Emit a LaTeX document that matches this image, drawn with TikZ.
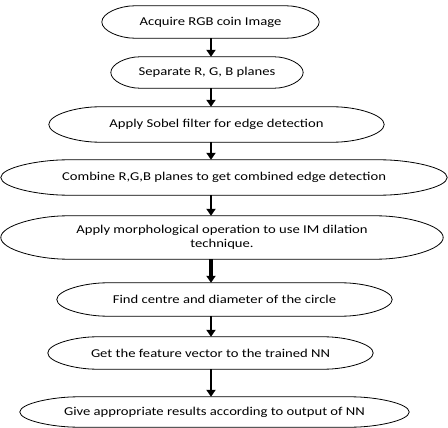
\documentclass[tikz,border=0pt]{standalone}
\usepackage{fontspec}
\setmainfont{Carlito}[FakeStretch=1.22]
\usetikzlibrary{calc,arrows.meta}

\tikzset{
  stage/.style={inner sep=0pt, align=center, font=\fontsize{12}{14}\selectfont},
  outline/.style={draw=black, line width=0.8pt},
  flow/.style={draw=black, line width=2.6pt, -{Triangle[length=7pt,width=9pt]}},
}

% oval with straight top and bottom, drawn round a named node
\newcommand{\stageoutline}[1]{%
  \draw [outline] (#1.west)
    .. controls ($(#1.west)!0.55!(#1.north west)$) and ($(#1.north west)!0.0825!(#1.north east)$) .. ($(#1.north west)!0.15!(#1.north east)$)
    -- ($(#1.north east)!0.15!(#1.north west)$)
    .. controls ($(#1.north east)!0.0825!(#1.north west)$) and ($(#1.east)!0.55!(#1.north east)$) .. (#1.east)
    .. controls ($(#1.east)!0.55!(#1.south east)$) and ($(#1.south east)!0.0825!(#1.south west)$) .. ($(#1.south east)!0.15!(#1.south west)$)
    -- ($(#1.south west)!0.15!(#1.south east)$)
    .. controls ($(#1.south west)!0.0825!(#1.south east)$) and ($(#1.west)!0.55!(#1.south west)$) .. (#1.west) -- cycle;}

\begin{document}
\begin{tikzpicture}[x=1pt, y=-1pt]
\useasboundingbox (0, 0) rectangle (448, 428);

\node [stage, minimum width=217pt, minimum height=32pt] (acquire)  at (210.5, 22)   {Acquire RGB coin Image};
\node [stage, minimum width=192pt, minimum height=31pt] (separate) at (207, 72.5)   {Separate R, G, B planes};
\node [stage, minimum width=335pt, minimum height=35pt] (sobel)    at (216.5, 124.5) {Apply Sobel filter for edge detection};
\node [stage, minimum width=446pt, minimum height=35pt] (combine)  at (224, 177.5)  {Combine R,G,B planes to get combined edge detection};
\node [stage, minimum width=442pt, minimum height=43pt] (dilate)   at (222, 237.5)  {Apply morphological operation to use IM dilation\\ technique.};
\node [stage, minimum width=335pt, minimum height=33pt] (circle)   at (224.5, 299.5) {Find centre and diameter of the circle};
\node [stage, minimum width=325pt, minimum height=32pt] (feature)  at (210.5, 353)  {Get the feature vector to the trained NN};
\node [stage, minimum width=389pt, minimum height=30pt] (result)   at (214.5, 412)  {Give appropriate results according to output of NN};

\foreach \n in {acquire, separate, sobel, combine, dilate, circle, feature, result}
  \stageoutline{\n};

% all arrows run down one vertical line
\coordinate (spine) at (211, 0);
\draw [flow] (acquire.south -| spine) -- (separate.north -| spine);
\draw [flow] (separate.south -| spine) -- (sobel.north -| spine);
\draw [flow] (sobel.south -| spine) -- (combine.north -| spine);
\draw [flow] (combine.south -| spine) -- (dilate.north -| spine);
\draw [flow, line width=4.2pt] (dilate.south -| spine) -- (circle.north -| spine);
\draw [flow] (circle.south -| spine) -- (feature.north -| spine);
\draw [flow] (feature.south -| spine) -- (result.north -| spine);
\end{tikzpicture}
\end{document}
